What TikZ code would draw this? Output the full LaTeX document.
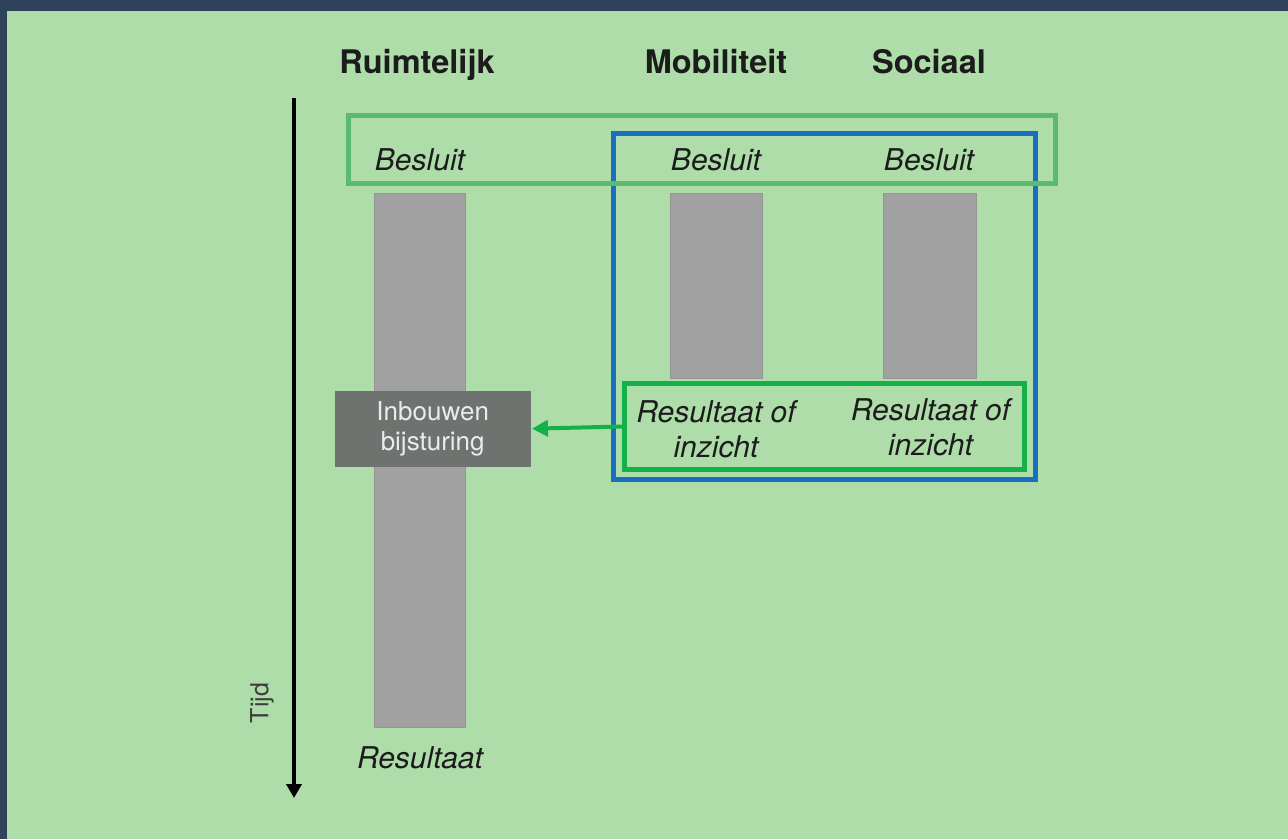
\documentclass[tikz,border=0pt]{standalone}
\usepackage{fontspec}
\setmainfont{TeX Gyre Heros}
\usetikzlibrary{arrows.meta,positioning}
\definecolor{rand}{HTML}{2F435C}
\definecolor{achtergrond}{HTML}{AEDDAA}
\definecolor{groenlicht}{HTML}{5CB971}
\definecolor{groen}{HTML}{14B04A}
\definecolor{blauw}{HTML}{1A6EC0}
\definecolor{balkgrijs}{HTML}{A1A1A1}
\definecolor{balkrand}{HTML}{959595}
\definecolor{blokgrijs}{HTML}{6F7370}
\definecolor{inkt}{HTML}{1C1C1C}
\tikzset{
    %grey columns through time
    balk/.style={
           rectangle,
           fill=balkgrijs,
           draw=balkrand, line width=0.8pt,
           inner sep=0pt},
    %frames round groups
    kader/.style={
           rectangle,
           line width=5pt,
           inner sep=0pt},
    %texts
    kop/.style={
           font=\fontsize{32.5}{36}\selectfont\bfseries,
           text=inkt, anchor=base},
    schuin/.style={
           font=\fontsize{30}{35}\selectfont\itshape,
           text=inkt, align=center},
    blok/.style={
           rectangle,
           fill=blokgrijs,
           text=white!92!black,
           font=\fontsize{26}{30}\selectfont,
           align=center,
           inner sep=0pt},
    % arrows
    tijdpijl/.style={
           -{Triangle[length=14pt,width=15pt]},
           line width=4pt, draw=black},
    pijl/.style={
           -{Triangle[length=16pt,width=16pt]},
           line width=4pt, draw=groen,
           shorten >=1pt}
}
\begin{document}
\begin{tikzpicture}[x=1pt,y=-1pt]

 %background
\useasboundingbox (0,0) rectangle (1288,839);
\fill[rand] (0,0) rectangle (1288,839);
\fill[achtergrond] (7,11) rectangle (1288,839);

 %columns
\node[balk, minimum width=91pt, minimum height=534pt](rbalk) at (419.5,460) {};
\node[balk, minimum width=92pt, minimum height=185pt](mbalk) at (716,285.5) {};
\node[balk, minimum width=93pt, minimum height=185pt](sbalk) at (929.5,285.5) {};

 %frames
\node[kader, draw=blauw, minimum width=422pt, minimum height=346pt](mskader) at (824.5,306.5) {};
\node[kader, draw=groenlicht, minimum width=707pt, minimum height=68pt](besluitkader) at (702,149.5) {};
\node[kader, draw=groen, minimum width=400pt, minimum height=86pt](inzichtkader) at (824.5,426.5) {};

 %headers
\node[kop](ruimtelijk) at (417,73) {Ruimtelijk};
\node[kop](mobiliteit) at (716,73) {Mobiliteit};
\node[kop](sociaal) at (929,73) {Sociaal};

 %decisions
\node[schuin, anchor=base](rbesluit) at (420,170) {Besluit};
\node[schuin, anchor=base](mbesluit) at (716,170) {Besluit};
\node[schuin, anchor=base](sbesluit) at (929,170) {Besluit};

 %results
\node[schuin](minzicht) at (716,429) {Resultaat of\\inzicht};
\node[schuin](sinzicht) at (930.5,427) {Resultaat of\\inzicht};
\node[schuin, anchor=base](rresultaat) at (420,768) {Resultaat};

\node[blok, minimum width=196pt, minimum height=76pt](inbouwen) at (432.7,428.7) {Inbouwen\\bijsturing};

 %time axis
\coordinate (tijdbegin) at (294,98);
\coordinate (tijdeind) at (294,798);
\draw[tijdpijl] (tijdbegin) -- (tijdeind);
\node[rotate=90, font=\fontsize{25}{30}\selectfont, text=inkt!85](tijd) at (262,703) {Tijd};

\draw[pijl] (inzichtkader.west) -- (inbouwen.east);

\end{tikzpicture}
\end{document}
